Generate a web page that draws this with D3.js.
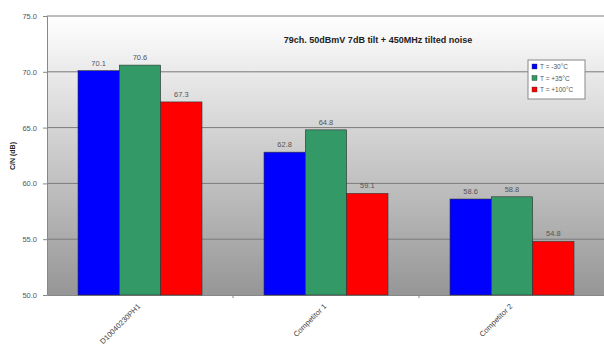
<!DOCTYPE html>
<html>
<head>
<meta charset="utf-8">
<script src="https://cdn.jsdelivr.net/npm/d3@7"></script>
<style>
body{margin:0;background:#fff;}
text{font-family:Arial,"Liberation Sans",sans-serif;}
</style>
</head>
<body>
<div id="chart"></div>
<script>
// chart values
var categories=["D10040230PH1","Competitor 1","Competitor 2"];
var seriesNames=["T = -30°C","T = +35°C","T = +100°C"];
var seriesColors=["#0000ff","#339966","#ff0000"];
var values=[
    [70.1,62.8,58.6],
    [70.6,64.8,58.8],
    [67.3,59.1,54.8]
];
var yTicks=[50,55,60,65,70,75];
var title="79ch. 50dBmV 7dB tilt + 450MHz tilted noise";

var width=604,height=349;
var plotLeft=47,plotRight=605,plotTop=16,plotBottom=295;

var svg=d3.select("#chart").append("svg")
    .attr("width",width).attr("height",height);

var y=d3.scaleLinear().domain([50,75]).range([plotBottom,plotTop]);
var x0=d3.scaleBand().domain(categories).range([plotLeft,plotRight]).paddingInner(0).paddingOuter(0);
var x1=d3.scaleBand().domain(d3.range(seriesNames.length)).range([31,x0.bandwidth()-31]);

// plot area gradient
var grad=svg.append("defs").append("linearGradient")
    .attr("id","bg").attr("x1",0).attr("y1",0).attr("x2",0).attr("y2",1);
grad.append("stop").attr("offset","0%").attr("stop-color","#ffffff");
grad.append("stop").attr("offset","100%").attr("stop-color","#969696");

svg.append("rect")
    .attr("x",plotLeft).attr("y",plotTop)
    .attr("width",plotRight-plotLeft).attr("height",plotBottom-plotTop)
    .attr("fill","url(#bg)");

// gridlines
svg.append("g").selectAll("line").data(yTicks.slice(1)).join("line")
    .attr("x1",plotLeft).attr("x2",plotRight)
    .attr("y1",d=>y(d)).attr("y2",d=>y(d))
    .attr("stroke","#7a7a7a").attr("stroke-width",1);

// y axis
var yAxis=svg.append("g").attr("transform","translate("+plotLeft+",0)")
    .call(d3.axisLeft(y).tickValues(yTicks).tickFormat(d3.format(".1f")).tickSize(4).tickPadding(6));
yAxis.select(".domain").attr("stroke","#888");
yAxis.selectAll(".tick line").attr("stroke","#888");
yAxis.selectAll("text").attr("fill","#555").attr("font-size","7.5px");

// x axis
var xAxis=svg.append("g").attr("transform","translate(0,"+plotBottom+")")
    .call(d3.axisBottom(x0).tickSize(0).tickSizeOuter(0));
xAxis.select(".domain").attr("stroke","#888");
xAxis.selectAll(".tick text")
    .attr("fill","#444").attr("font-size","7.5px")
    .attr("text-anchor","end")
    .attr("transform","translate(-1,10) rotate(-45)")
    .attr("dy","0.35em").attr("y",0);
// tick marks between categories
svg.append("g").selectAll("line").data(categories.slice(1)).join("line")
    .attr("x1",d=>x0(d)).attr("x2",d=>x0(d))
    .attr("y1",plotBottom).attr("y2",plotBottom+3)
    .attr("stroke","#888");

// bars
var groups=svg.append("g").selectAll("g").data(categories).join("g")
    .attr("transform",d=>"translate("+x0(d)+",0)");
groups.each(function(cat,ci){
    var g=d3.select(this);
    seriesNames.forEach(function(s,si){
        var v=values[si][ci];
        g.append("rect")
            .attr("x",x1(si)).attr("y",y(v))
            .attr("width",x1.bandwidth()).attr("height",plotBottom-y(v))
            .attr("fill",seriesColors[si])
            .attr("stroke","#333").attr("stroke-width",0.6);
        g.append("text")
            .attr("x",x1(si)+x1.bandwidth()/2).attr("y",y(v)-5)
            .attr("text-anchor","middle")
            .attr("fill","#555").attr("font-size","7.5px")
            .text(v.toFixed(1));
    });
});

// title
svg.append("text")
    .attr("x",378).attr("y",43)
    .attr("text-anchor","middle")
    .attr("font-size","9px").attr("font-weight","bold").attr("fill","#222")
    .text(title);

// y axis title
svg.append("text")
    .attr("transform","translate(15,156) rotate(-90)")
    .attr("text-anchor","middle")
    .attr("font-size","7px").attr("font-weight","bold").attr("fill","#222")
    .text("C/N (dB)");

// legend
var lg=svg.append("g").attr("transform","translate(528,60)");
lg.append("rect").attr("width",57).attr("height",39)
    .attr("fill","#fff").attr("stroke","#888");
seriesNames.forEach(function(s,i){
    lg.append("rect").attr("x",4).attr("y",4+i*11.5)
        .attr("width",5).attr("height",5)
        .attr("fill",seriesColors[i]).attr("stroke","#333").attr("stroke-width",0.4);
    lg.append("text").attr("x",12).attr("y",9+i*11.5)
        .attr("font-size","6.5px").attr("fill","#555")
        .text(s);
});
</script>
</body>
</html>
